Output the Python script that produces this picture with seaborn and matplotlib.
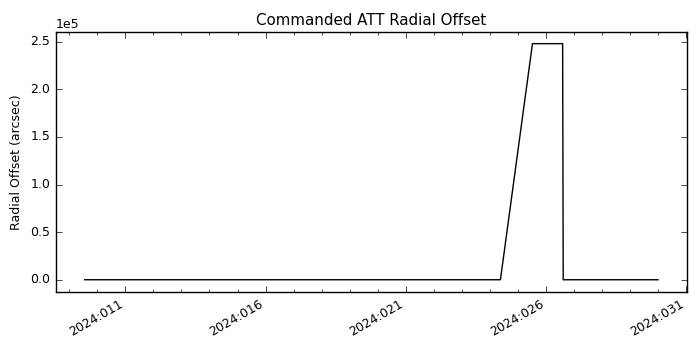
import matplotlib
matplotlib.use("Agg")
import matplotlib.pyplot as plt
import matplotlib.dates as mdates
import pandas as pd
import seaborn as sns

# Data
times = [
    "2024-01-09 13:10",
    "2024-01-24 09:05",
    "2024-01-25 12:30",
    "2024-01-26 14:20",
    "2024-01-26 14:50",
    "2024-01-30 00:00",
]
offsets = [0.0, 0.0, 247900.0, 247900.0, 0.0, 0.0]

title = "Commanded ATT Radial Offset"
ylabel = "Radial Offset (arcsec)"

plt.style.use("classic")
plt.rcParams.update({
    "font.size": 9,
    "font.family": ["DejaVu Sans"],
    "figure.facecolor": "white",
    "savefig.facecolor": "white",
    "axes.autolimit_mode": "data",
    "axes.xmargin": 0.05,
    "axes.ymargin": 0.05,
})

df = pd.DataFrame({"time": pd.to_datetime(times), "offset": offsets})

fig, ax = plt.subplots(figsize=(7, 3.5), dpi=100)
sns.lineplot(data=df, x="time", y="offset", ax=ax, color="black",
             linewidth=1.0, sort=False, estimator=None)
ax.margins(0.05)

ax.xaxis.set_major_locator(mdates.DayLocator(bymonthday=[1, 6, 11, 16, 21, 26, 31]))
ax.xaxis.set_minor_locator(mdates.DayLocator())
ax.xaxis.set_major_formatter(mdates.DateFormatter("%Y:%j"))
ax.ticklabel_format(axis="y", style="sci", scilimits=(0, 0))
ax.tick_params(axis="x", which="major", direction="in", length=4, top=True)
ax.tick_params(axis="x", which="minor", direction="in", length=2, top=True)
ax.tick_params(axis="y", direction="in", length=4, right=True)
for lbl in ax.get_xticklabels():
    lbl.set_rotation(30)
    lbl.set_ha("right")

ax.set_title(title, fontsize=10.8)
ax.set_xlabel("")
ax.set_ylabel(ylabel)

fig.subplots_adjust(left=0.08, right=0.981, top=0.909, bottom=0.167)
fig.savefig("out.png", dpi=100)
